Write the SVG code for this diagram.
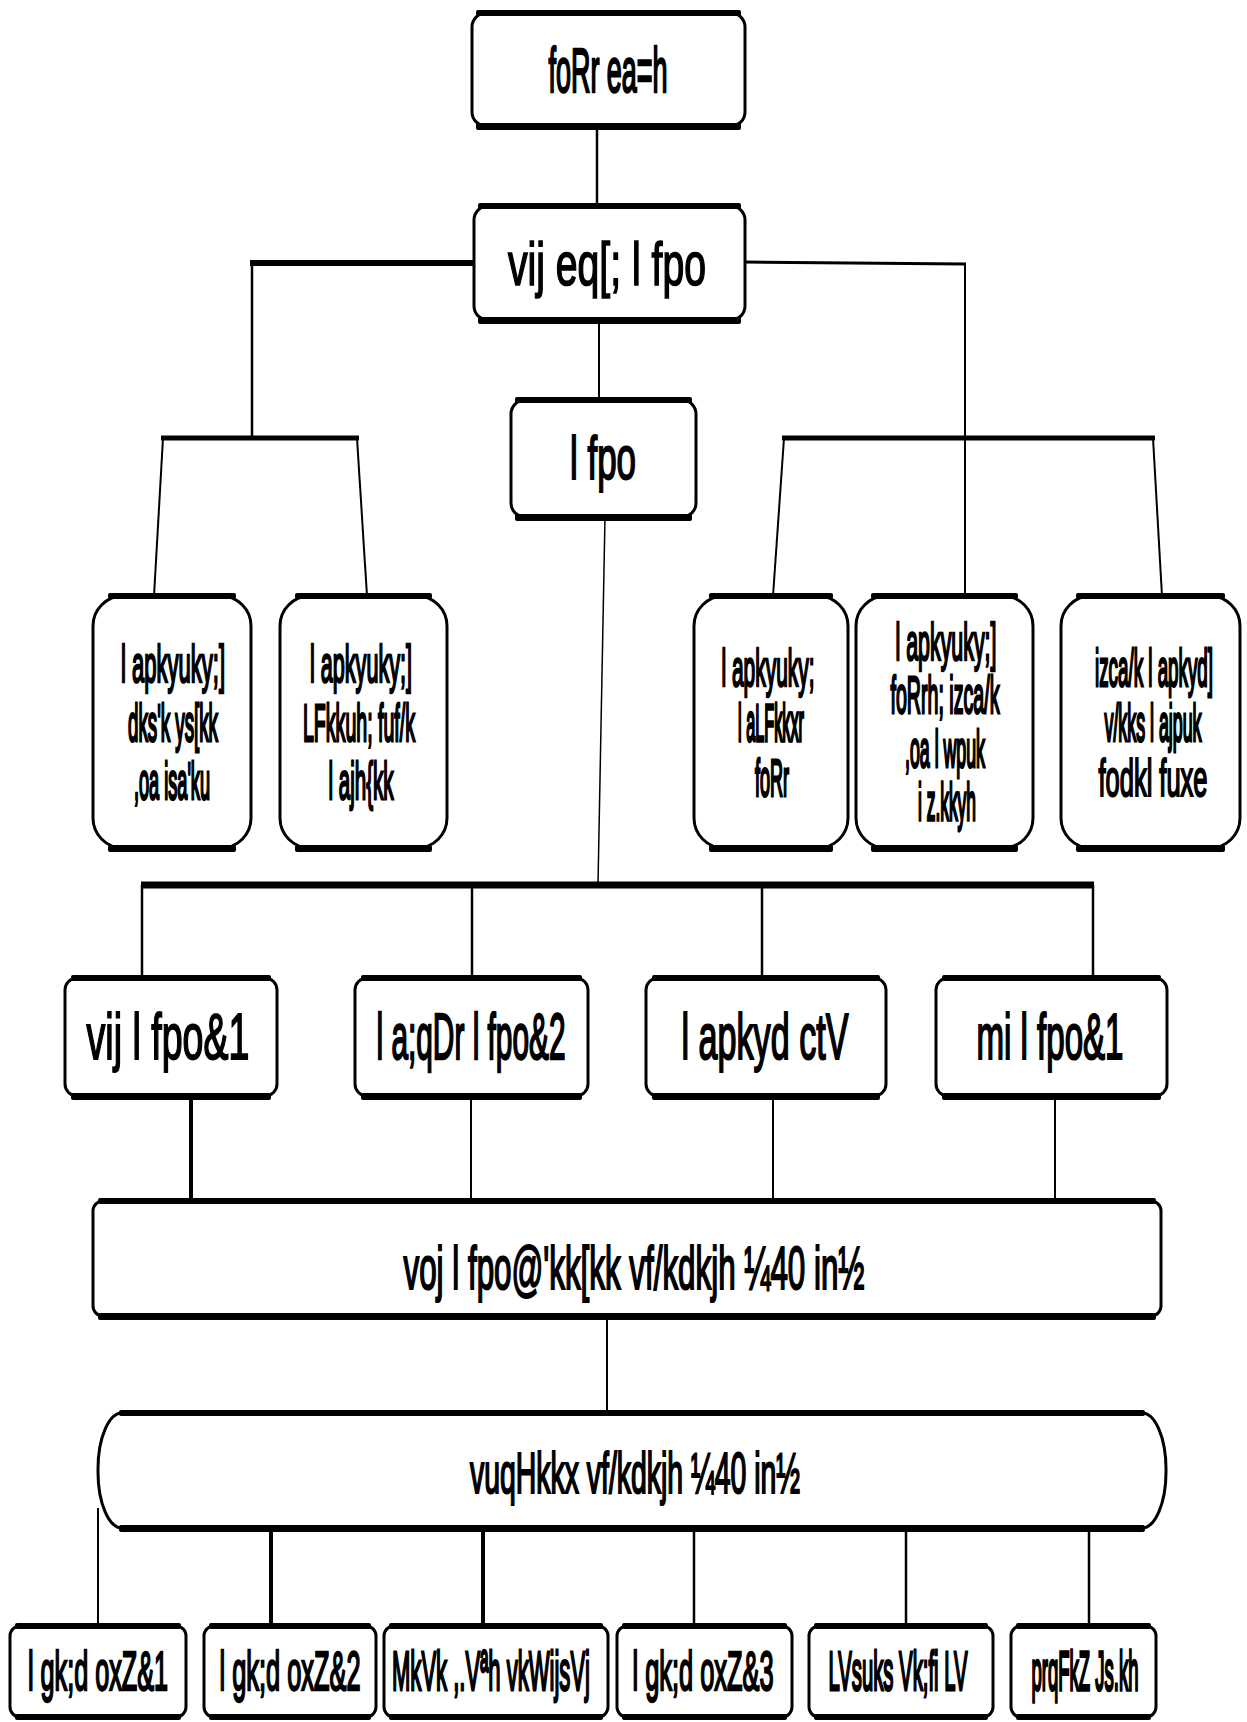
<svg xmlns="http://www.w3.org/2000/svg" width="1247" height="1722" viewBox="0 0 1247 1722">
  <style>
    .box { fill: #fff; stroke: #000; stroke-width: 3; }
    .bar { fill: #000; }
    .c { stroke: #000; fill: none; stroke-linecap: butt; }
    .t { font-family: "Liberation Sans", Arial, sans-serif; fill: #000; stroke: #000; stroke-width: 1.1; text-anchor: middle; }
  </style>

  <!-- connectors -->
  <g id="connectors">
    <line class="c" x1="597" y1="128" x2="597" y2="206" stroke-width="2.5"/>
    <line class="c" x1="475" y1="263" x2="250" y2="263" stroke-width="6"/>
    <line class="c" x1="252" y1="263" x2="252" y2="438" stroke-width="2.5"/>
    <line class="c" x1="161" y1="438" x2="359" y2="438" stroke-width="5"/>
    <line class="c" x1="163" y1="438" x2="154" y2="596" stroke-width="2"/>
    <line class="c" x1="357" y1="438" x2="367" y2="596" stroke-width="2"/>
    <line class="c" x1="745" y1="262" x2="966" y2="264" stroke-width="3"/>
    <line class="c" x1="965" y1="264" x2="965" y2="596" stroke-width="2"/>
    <line class="c" x1="782" y1="438" x2="1155" y2="438" stroke-width="5"/>
    <line class="c" x1="784" y1="438" x2="773" y2="596" stroke-width="2"/>
    <line class="c" x1="1153" y1="438" x2="1162" y2="596" stroke-width="2"/>
    <line class="c" x1="599" y1="320" x2="599" y2="400" stroke-width="2"/>
    <line class="c" x1="605" y1="517" x2="598" y2="884" stroke-width="1.5"/>
    <line class="c" x1="141" y1="885" x2="1094" y2="885" stroke-width="7"/>
    <line class="c" x1="142" y1="885" x2="142" y2="982" stroke-width="2.5"/>
    <line class="c" x1="472" y1="885" x2="472" y2="982" stroke-width="2.5"/>
    <line class="c" x1="762" y1="885" x2="762" y2="982" stroke-width="2.5"/>
    <line class="c" x1="1093" y1="885" x2="1093" y2="982" stroke-width="2.5"/>
    <line class="c" x1="191" y1="1096" x2="191" y2="1201" stroke-width="4"/>
    <line class="c" x1="471" y1="1096" x2="471" y2="1201" stroke-width="2"/>
    <line class="c" x1="773" y1="1096" x2="773" y2="1201" stroke-width="2"/>
    <line class="c" x1="1055" y1="1096" x2="1055" y2="1201" stroke-width="2"/>
    <line class="c" x1="607" y1="1316" x2="607" y2="1413" stroke-width="2"/>
    <line class="c" x1="98" y1="1508" x2="98" y2="1626" stroke-width="2"/>
    <line class="c" x1="271" y1="1528" x2="271" y2="1626" stroke-width="4"/>
    <line class="c" x1="483" y1="1528" x2="483" y2="1626" stroke-width="4"/>
    <line class="c" x1="694" y1="1528" x2="694" y2="1626" stroke-width="2.5"/>
    <line class="c" x1="906" y1="1528" x2="906" y2="1626" stroke-width="2.5"/>
    <line class="c" x1="1089" y1="1528" x2="1089" y2="1626" stroke-width="2.5"/>
  </g>

  <!-- top level -->
  <g id="n-top">
    <rect class="box" x="472" y="13" width="273" height="113" rx="14"/>
    <rect class="bar" x="476" y="10" width="265" height="6" rx="2"/>
    <rect class="bar" x="476" y="123" width="265" height="7" rx="2"/>
    <text class="t" x="608" y="92" font-size="27" textLength="119" lengthAdjust="spacingAndGlyphs" transform="translate(0 92) scale(1 2.3) translate(0 -92)">foRr ea=h</text>
  </g>

  <g id="n-secretary">
    <rect class="box" x="474" y="206" width="271" height="114" rx="14"/>
    <rect class="bar" x="478" y="203" width="263" height="6" rx="2"/>
    <rect class="bar" x="478" y="317" width="263" height="7" rx="2"/>
    <text class="t" x="607" y="285" font-size="39" textLength="198" lengthAdjust="spacingAndGlyphs" transform="translate(0 285) scale(1 1.59) translate(0 -285)">vij eq[; l fpo</text>
  </g>

  <g id="n-sachiv">
    <rect class="box" x="511" y="400" width="185" height="117" rx="14"/>
    <rect class="bar" x="515" y="397" width="177" height="6" rx="2"/>
    <rect class="bar" x="515" y="514" width="177" height="7" rx="2"/>
    <text class="t" x="603" y="479" font-size="35" textLength="66" lengthAdjust="spacingAndGlyphs" transform="translate(0 479) scale(1 1.77) translate(0 -479)">l fpo</text>
  </g>

  <!-- directorates -->
  <g id="n-dir1">
    <rect class="box" x="93" y="596" width="158" height="252" rx="30"/>
    <rect class="bar" x="108" y="593" width="128" height="6" rx="2"/>
    <rect class="bar" x="108" y="845" width="128" height="7" rx="2"/>
    <text class="t" x="173" y="682" font-size="22" textLength="104" lengthAdjust="spacingAndGlyphs" transform="translate(0 682) scale(1 2.36) translate(0 -682)">l apkyuky;]</text>
    <text class="t" x="173" y="741" font-size="19" textLength="90" lengthAdjust="spacingAndGlyphs" transform="translate(0 741) scale(1 2.74) translate(0 -741)">dks'k ys[kk</text>
    <text class="t" x="172" y="799" font-size="18" textLength="76" lengthAdjust="spacingAndGlyphs" transform="translate(0 799) scale(1 2.89) translate(0 -799)">,oa isa'ku</text>
  </g>

  <g id="n-dir2">
    <rect class="box" x="280" y="596" width="167" height="252" rx="30"/>
    <rect class="bar" x="295" y="593" width="137" height="6" rx="2"/>
    <rect class="bar" x="295" y="845" width="137" height="7" rx="2"/>
    <text class="t" x="361" y="682" font-size="22" textLength="102" lengthAdjust="spacingAndGlyphs" transform="translate(0 682) scale(1 2.36) translate(0 -682)">l apkyuky;]</text>
    <text class="t" x="359" y="741" font-size="20" textLength="112" lengthAdjust="spacingAndGlyphs" transform="translate(0 741) scale(1 2.6) translate(0 -741)">LFkkuh; fuf/k</text>
    <text class="t" x="361" y="799" font-size="20.5" textLength="65" lengthAdjust="spacingAndGlyphs" transform="translate(0 799) scale(1 2.54) translate(0 -799)">l ajh{kk</text>
  </g>

  <g id="n-dir3">
    <rect class="box" x="694" y="596" width="154" height="252" rx="30"/>
    <rect class="bar" x="709" y="593" width="124" height="6" rx="2"/>
    <rect class="bar" x="709" y="845" width="124" height="7" rx="2"/>
    <text class="t" x="768" y="686" font-size="21" textLength="93" lengthAdjust="spacingAndGlyphs" transform="translate(0 686) scale(1 2.48) translate(0 -686)">l apkyuky;</text>
    <text class="t" x="771" y="741" font-size="16" textLength="66" lengthAdjust="spacingAndGlyphs" transform="translate(0 741) scale(1 3.25) translate(0 -741)">l aLFkkxr</text>
    <text class="t" x="772" y="796" font-size="18" textLength="34" lengthAdjust="spacingAndGlyphs" transform="translate(0 796) scale(1 2.89) translate(0 -796)">foRr</text>
  </g>

  <g id="n-dir4">
    <rect class="box" x="856" y="596" width="177" height="252" rx="30"/>
    <rect class="bar" x="871" y="593" width="147" height="6" rx="2"/>
    <rect class="bar" x="871" y="845" width="147" height="7" rx="2"/>
    <text class="t" x="946" y="660" font-size="21.5" textLength="101" lengthAdjust="spacingAndGlyphs" transform="translate(0 660) scale(1 2.42) translate(0 -660)">l apkyuky;]</text>
    <text class="t" x="945" y="713" font-size="20" textLength="109" lengthAdjust="spacingAndGlyphs" transform="translate(0 713) scale(1 2.6) translate(0 -713)">foRrh; izca/k</text>
    <text class="t" x="945" y="767" font-size="18" textLength="80" lengthAdjust="spacingAndGlyphs" transform="translate(0 767) scale(1 2.89) translate(0 -767)">,oa l wpuk</text>
    <text class="t" x="947" y="820" font-size="17.4" textLength="58" lengthAdjust="spacingAndGlyphs" transform="translate(0 820) scale(1 2.99) translate(0 -820)">i z.kkyh</text>
  </g>

  <g id="n-dir5">
    <rect class="box" x="1061" y="596" width="179" height="252" rx="30"/>
    <rect class="bar" x="1076" y="593" width="149" height="6" rx="2"/>
    <rect class="bar" x="1076" y="845" width="149" height="7" rx="2"/>
    <text class="t" x="1154" y="686" font-size="19" textLength="118" lengthAdjust="spacingAndGlyphs" transform="translate(0 686) scale(1 2.74) translate(0 -686)">izca/k l apkyd]</text>
    <text class="t" x="1153" y="741" font-size="18" textLength="97" lengthAdjust="spacingAndGlyphs" transform="translate(0 741) scale(1 2.89) translate(0 -741)">v/kks l ajpuk</text>
    <text class="t" x="1153" y="796" font-size="25.5" textLength="109" lengthAdjust="spacingAndGlyphs" transform="translate(0 796) scale(1 2.04) translate(0 -796)">fodkl fuxe</text>
  </g>

  <!-- secretariat officers -->
  <g id="n-addl">
    <rect class="box" x="65" y="978" width="212" height="118" rx="12"/>
    <rect class="bar" x="71" y="975" width="200" height="6" rx="2"/>
    <rect class="bar" x="71" y="1093" width="200" height="7" rx="2"/>
    <text class="t" x="168" y="1059" font-size="37.6" textLength="163" lengthAdjust="spacingAndGlyphs" transform="translate(0 1059) scale(1 1.7) translate(0 -1059)">vij l fpo&amp;1</text>
  </g>

  <g id="n-joint">
    <rect class="box" x="355" y="978" width="233" height="118" rx="12"/>
    <rect class="bar" x="361" y="975" width="221" height="6" rx="2"/>
    <rect class="bar" x="361" y="1093" width="221" height="7" rx="2"/>
    <text class="t" x="471" y="1059" font-size="29.8" textLength="189" lengthAdjust="spacingAndGlyphs" transform="translate(0 1059) scale(1 2.15) translate(0 -1059)">l a;qDr l fpo&amp;2</text>
  </g>

  <g id="n-budget">
    <rect class="box" x="646" y="978" width="240" height="118" rx="12"/>
    <rect class="bar" x="652" y="975" width="228" height="6" rx="2"/>
    <rect class="bar" x="652" y="1093" width="228" height="7" rx="2"/>
    <text class="t" x="765" y="1059" font-size="34.1" textLength="167" lengthAdjust="spacingAndGlyphs" transform="translate(0 1059) scale(1 1.88) translate(0 -1059)">l apkyd ctV</text>
  </g>

  <g id="n-deputy">
    <rect class="box" x="936" y="978" width="231" height="118" rx="12"/>
    <rect class="bar" x="942" y="975" width="219" height="6" rx="2"/>
    <rect class="bar" x="942" y="1093" width="219" height="7" rx="2"/>
    <text class="t" x="1050" y="1059" font-size="33.1" textLength="147" lengthAdjust="spacingAndGlyphs" transform="translate(0 1059) scale(1 1.93) translate(0 -1059)">mi l fpo&amp;1</text>
  </g>

  <!-- officer pools -->
  <g id="n-under">
    <rect class="box" x="93" y="1201" width="1068" height="115" rx="10"/>
    <rect class="bar" x="98" y="1198" width="1058" height="6" rx="2"/>
    <rect class="bar" x="98" y="1313" width="1058" height="7" rx="2"/>
    <text class="t" x="634" y="1289" font-size="31.3" textLength="461" lengthAdjust="spacingAndGlyphs" transform="translate(0 1289) scale(1 1.98) translate(0 -1289)">voj l fpo@'kk[kk vf/kdkjh ¼40 in½</text>
  </g>

  <g id="n-section">
    <rect class="box" x="98" y="1413" width="1068" height="115" rx="24" ry="56"/>
    <rect class="bar" x="119" y="1410" width="1026" height="6" rx="2"/>
    <rect class="bar" x="119" y="1525" width="1026" height="7" rx="2"/>
    <text class="t" x="635" y="1493" font-size="28.4" textLength="330" lengthAdjust="spacingAndGlyphs" transform="translate(0 1493) scale(1 2.04) translate(0 -1493)">vuqHkkx vf/kdkjh ¼40 in½</text>
  </g>

  <!-- staff -->
  <g id="n-asst1">
    <rect class="box" x="10" y="1626" width="176" height="91" rx="10"/>
    <rect class="bar" x="15" y="1623" width="166" height="6" rx="2"/>
    <rect class="bar" x="15" y="1714" width="166" height="6" rx="2"/>
    <text class="t" x="98" y="1690" font-size="25.2" textLength="140" lengthAdjust="spacingAndGlyphs" transform="translate(0 1690) scale(1 2.22) translate(0 -1690)">l gk;d oxZ&amp;1</text>
  </g>

  <g id="n-asst2">
    <rect class="box" x="204" y="1626" width="172" height="91" rx="10"/>
    <rect class="bar" x="209" y="1623" width="162" height="6" rx="2"/>
    <rect class="bar" x="209" y="1714" width="162" height="6" rx="2"/>
    <text class="t" x="290" y="1690" font-size="25.4" textLength="141" lengthAdjust="spacingAndGlyphs" transform="translate(0 1690) scale(1 2.2) translate(0 -1690)">l gk;d oxZ&amp;2</text>
  </g>

  <g id="n-deo">
    <rect class="box" x="384" y="1626" width="224" height="91" rx="10"/>
    <rect class="bar" x="389" y="1623" width="214" height="6" rx="2"/>
    <rect class="bar" x="389" y="1714" width="214" height="6" rx="2"/>
    <text class="t" x="491" y="1690" font-size="22" textLength="198" lengthAdjust="spacingAndGlyphs" transform="translate(0 1690) scale(1 2.55) translate(0 -1690)">MkVk ,.Vªh vkWijsVj</text>
  </g>

  <g id="n-asst3">
    <rect class="box" x="617" y="1626" width="175" height="91" rx="10"/>
    <rect class="bar" x="622" y="1623" width="165" height="6" rx="2"/>
    <rect class="bar" x="622" y="1714" width="165" height="6" rx="2"/>
    <text class="t" x="703" y="1690" font-size="25.4" textLength="141" lengthAdjust="spacingAndGlyphs" transform="translate(0 1690) scale(1 2.2) translate(0 -1690)">l gk;d oxZ&amp;3</text>
  </g>

  <g id="n-steno">
    <rect class="box" x="809" y="1626" width="184" height="91" rx="10"/>
    <rect class="bar" x="814" y="1623" width="174" height="6" rx="2"/>
    <rect class="bar" x="814" y="1714" width="174" height="6" rx="2"/>
    <text class="t" x="898" y="1690" font-size="19.8" textLength="139" lengthAdjust="spacingAndGlyphs" transform="translate(0 1690) scale(1 2.83) translate(0 -1690)">LVsuks Vk;fi LV</text>
  </g>

  <g id="n-class4">
    <rect class="box" x="1011" y="1626" width="145" height="91" rx="10"/>
    <rect class="bar" x="1016" y="1623" width="135" height="6" rx="2"/>
    <rect class="bar" x="1016" y="1714" width="135" height="6" rx="2"/>
    <text class="t" x="1085" y="1690" font-size="18.5" textLength="107" lengthAdjust="spacingAndGlyphs" transform="translate(0 1690) scale(1 3.03) translate(0 -1690)">prqFkZ Js.kh</text>
  </g>
</svg>
